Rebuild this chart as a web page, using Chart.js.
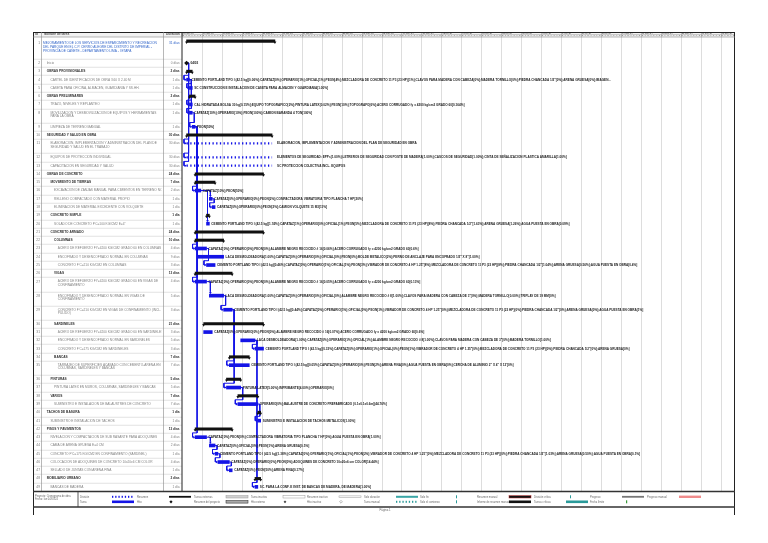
<!DOCTYPE html>
<html>
<head>
<meta charset="utf-8">
<title>Cronograma de obra</title>
<script src="https://cdn.jsdelivr.net/npm/chart.js@4.4.1/dist/chart.umd.min.js"></script>
<style>
  html, body { margin: 0; padding: 0; background: #fff; }
  #wrap { width: 768px; height: 543px; position: relative; }
</style>
</head>
<body>
<div id="wrap"><canvas id="gantt"></canvas></div>
<script>
// ---- datos del cronograma (dias contados desde dom 03/03/24) ----
const taskNames = [
  'MEJORAMIENTO DE LOS SERVICIOS DE ESPARCIMIENTO Y RECREACION\nDEL PARQUE EN EL C.P. CERRO ALEGRE DEL DISTRITO DE IMPERIAL -\nPROVINCIA DE CAÑETE - DEPARTAMENTO LIMA - I ETAPA',
  'Inicio',
  'OBRAS PROVISIONALES',
  'CARTEL DE IDENTIFICACION DE OBRA 3.60 X 2.40 M',
  'CASETA PARA OFICINA, ALMACEN, GUARDIANIA Y SS.HH.',
  'OBRAS PRELIMINARES',
  'TRAZO, NIVELES Y REPLANTEO',
  'MOVILIZACION Y DESMOVILIZACION DE EQUIPOS Y HERRAMIENTAS\nPARA LA OBRA',
  'LIMPIEZA DE TERRENO MANUAL',
  'SEGURIDAD Y SALUD EN OBRA',
  'ELABORACION, IMPLEMENTACION Y ADMINISTRACION DEL PLAN DE\nSEGURIDAD Y SALUD EN EL TRABAJO',
  'EQUIPOS DE PROTECCION INDIVIDUAL',
  'CAPACITACION EN SEGURIDAD Y SALUD',
  'OBRAS DE CONCRETO',
  'MOVIMIENTO DE TIERRAS',
  'EXCAVACION DE ZANJAS MANUAL PARA CIMIENTOS EN TERRENO NORMAL',
  'RELLENO COMPACTADO CON MATERIAL PROPIO',
  'ELIMINACION DE MATERIAL EXCEDENTE CON VOLQUETE',
  'CONCRETO SIMPLE',
  'SOLADO DE CONCRETO F\'C=100 KG/CM2 E=4"',
  'CONCRETO ARMADO',
  'COLUMNAS',
  'ACERO DE REFUERZO FY=4200 KG/CM2 GRADO 60 EN COLUMNAS',
  'ENCOFRADO Y DESENCOFRADO NORMAL EN COLUMNAS',
  'CONCRETO F\'C=210 KG/CM2 EN COLUMNAS',
  'VIGAS',
  'ACERO DE REFUERZO FY=4200 KG/CM2 GRADO 60 EN VIGAS DE\nCONFINAMIENTO',
  'ENCOFRADO Y DESENCOFRADO NORMAL EN VIGAS DE\nCONFINAMIENTO',
  'CONCRETO F\'C=210 KG/CM2 EN VIGAS DE CONFINAMIENTO (INCL.\nPULIDO)',
  'SARDINELES',
  'ACERO DE REFUERZO FY=4200 KG/CM2 GRADO 60 EN SARDINELES',
  'ENCOFRADO Y DESENCOFRADO NORMAL EN SARDINELES',
  'CONCRETO F\'C=175 KG/CM2 EN SARDINELES',
  'BANCAS',
  'TARRAJEO DE SUPERFICIES ACABADO CON CEMENTO-ARENA EN\nCOLUMNAS, SARDINELES Y BANCAS',
  'PINTURAS',
  'PINTURA LATEX EN MUROS, COLUMNAS, SARDINELES Y BANCAS',
  'VARIOS',
  'SUMINISTRO E INSTALACION DE BALAUSTRES DE CONCRETO',
  'TACHOS DE BASURA',
  'SUMINISTRO E INSTALACION DE TACHOS',
  'PISOS Y PAVIMENTOS',
  'NIVELACION Y COMPACTACION DE SUB RASANTE PARA ADOQUINES',
  'CAMA DE ARENA GRUESA E=4 CM',
  'CONCRETO F\'C=175 KG/CM2 EN CONFINAMIENTO (SARDINEL)',
  'COLOCACION DE ADOQUINES DE CONCRETO 10x20x6 CM COLOR',
  'SELLADO DE JUNTAS CON ARENA FINA',
  'MOBILIARIO URBANO',
  'BANCAS DE MADERA'
];
const taskLevels = [0,1,1,2,2,1,2,2,2,1,2,2,2,1,2,3,3,3,2,3,2,3,4,4,4,3,4,4,4,3,4,4,4,3,4,2,3,2,3,1,2,1,2,2,2,2,2,1,2];
// p = resumen del proyecto, s = resumen, t = tarea, d = tarea dividida, m = hito
const taskKinds = ['p','m','s','t','t','s','t','t','t','s','d','d','d','s','s','t','t','t','s','t','s','s','t','t','t','s','t','t','t','s','t','t','t','s','t','s','t','s','t','s','t','s','t','t','t','t','t','s','t'];
const taskStarts = [1.6,1.6,1.6,1.6,2.6,2.6,2.6,2.6,3.6,1.6,1.6,1.6,1.6,4.6,4.6,4.6,9.6,10.6,8.6,8.6,4.6,4.6,4.6,5.6,8.6,4.6,4.6,9.6,14.6,7.6,7.6,20.6,25.6,16.6,16.6,15.6,15.6,19.6,19.6,26.6,26.6,4.6,4.6,9.6,11.6,12.6,16.6,25.6,25.6];
const taskDurations = [31,0,2,1,1,2,1,1,1,30,30,30,30,24,7,2,1,1,1,1,24,10,4,9,3,13,4,5,3,21,3,5,3,7,7,5,5,7,7,1,1,13,4,2,1,4,1,2,1];
const taskPreds = [0,0,0,2,4,0,4,4,8,0,2,2,2,0,0,9,16,17,0,16,0,0,9,0,23,0,9,27,28,0,0,0,32,0,29,0,29,0,37,0,39,0,9,43,44,45,46,0,32];
const barLabels = [
  '', '04/03', '',
  'CEMENTO PORTLAND TIPO I (42.5 kg)[0.06%];CAPATAZ[0%];OPERARIO[1%];OFICIAL[1%];PEON[4%];MEZCLADORA DE CONCRETO 11 P3 (23 HP)[1%];CLAVOS PARA MADERA CON CABEZA[0%];MADERA TORNILLO[0%];PIEDRA CHANCADA 1/2"[0%];ARENA GRUESA[0%];IMAGEN...',
  'SC CONSTRUCCION E INSTALACION DE CASETA PARA ALMACEN Y GUARDIANIA[1.00%]',
  '',
  'CAL HIDRATADA BOLSA 30 kg[0.15%];EQUIPO TOPOGRAFICO[2%];PINTURA LATEX[0.02%];PEON[10%];TOPOGRAFO[6%];ACERO CORRUGADO fy = 4200 kg/cm2 GRADO 60[0.164%]',
  'CAPATAZ[10%];OPERARIO[10%];PEON[100%];CAMION BARANDA 4 TON[100%]',
  'PEON[50%]',
  '',
  'ELABORACION, IMPLEMENTACION Y ADMINISTRACION DEL PLAN DE SEGURIDAD EN OBRA',
  'ELEMENTOS DE SEGURIDAD: EPPs[1.00%];LETREROS DE SEGURIDAD CON POSTE DE MADERA[1.00%];CASCOS DE SEGURIDAD[1.00%];CINTA DE SEÑALIZACION PLASTICA AMARILLA[1.00%]',
  'SC PROTECCION COLECTIVA INCL. EQUIPOS',
  '', '',
  'CAPATAZ[10%];PEON[50%]',
  'CAPATAZ[0%];OPERARIO[0%];PEON[2%];COMPACTADORA VIBRATORIA TIPO PLANCHA 7 HP[20%]',
  'CAPATAZ[0%];OPERARIO[0%];PEON[2%];CAMION VOLQUETE 15 M3[11%]',
  '',
  'CEMENTO PORTLAND TIPO I (42.5 kg)[1.74%];CAPATAZ[1%];OPERARIO[0%];OFICIAL[1%];PEON[5%];MEZCLADORA DE CONCRETO 11 P3 (23 HP)[8%];PIEDRA CHANCADA 1/2"[1.63%];ARENA GRUESA[1.26%];AGUA PUESTA EN OBRA[0.09%]',
  '', '',
  'CAPATAZ[0%];OPERARIO[0%];PEON[0%];ALAMBRE NEGRO RECOCIDO # 16[0.06%];ACERO CORRUGADO fy = 4200 kg/cm2 GRADO 60[0.6%]',
  'LACA DESMOLDEADORA[1.00%];CAPATAZ[0%];OPERARIO[0%];OFICIAL[0%];PEON[0%];MOLDE METALICO[2%];PERNO DE ANCLAJE PARA ENCOFRADO 1/2" X 8"[1.00%]',
  'CEMENTO PORTLAND TIPO I (42.5 kg)[0.46%];CAPATAZ[0%];OPERARIO[1%];OFICIAL[1%];PEON[3%];VIBRADOR DE CONCRETO 4 HP 1.25"[8%];MEZCLADORA DE CONCRETO 11 P3 (23 HP)[8%];PIEDRA CHANCADA 1/2"[1.04%];ARENA GRUESA[0.56%];AGUA PUESTA EN OBRA[0.4%]',
  '',
  'CAPATAZ[0%];OPERARIO[0%];PEON[0%];ALAMBRE NEGRO RECOCIDO # 16[0.05%];ACERO CORRUGADO fy = 4200 kg/cm2 GRADO 60[0.13%]',
  'LACA DESMOLDEADORA[1.00%];CAPATAZ[0%];OPERARIO[0%];OFICIAL[0%];ALAMBRE NEGRO RECOCIDO # 8[1.00%];CLAVOS PARA MADERA CON CABEZA DE 3"[0%];MADERA TORNILLO[0.00%];TRIPLAY DE 19 MM[0%]',
  'CEMENTO PORTLAND TIPO I (42.5 kg)[0.44%];CAPATAZ[0%];OPERARIO[1%];OFICIAL[0%];PEON[1%];VIBRADOR DE CONCRETO 4 HP 1.25"[0%];MEZCLADORA DE CONCRETO 11 P3 (23 HP)[0%];PIEDRA CHANCADA 1/2"[0%];ARENA GRUESA[0%];AGUA PUESTA EN OBRA[1%]',
  '',
  'CAPATAZ[0%];OPERARIO[0%];PEON[0%];ALAMBRE NEGRO RECOCIDO # 16[0.07%];ACERO CORRUGADO fy = 4200 kg/cm2 GRADO 60[0.6%]',
  'LACA DESMOLDEADORA[1.00%];CAPATAZ[0%];OPERARIO[1%];OFICIAL[1%];ALAMBRE NEGRO RECOCIDO # 8[1.00%];CLAVOS PARA MADERA CON CABEZA DE 3"[0%];MADERA TORNILLO[1.00%]',
  'CEMENTO PORTLAND TIPO I (42.5 kg)[0.33%];CAPATAZ[0%];OPERARIO[1%];OFICIAL[0%];PEON[1%];VIBRADOR DE CONCRETO 4 HP 1.25"[0%];MEZCLADORA DE CONCRETO 11 P3 (23 HP)[0%];PIEDRA CHANCADA 1/2"[0%];ARENA GRUESA[0%]',
  '',
  'CEMENTO PORTLAND TIPO I (42.5 kg)[0.05%];CAPATAZ[0%];OPERARIO[0%];PEON[2%];ARENA FINA[0%];AGUA PUESTA EN OBRA[0%];CERCHA DE ALUMINIO 2" X 4" X 12\'[0%]',
  '',
  'PINTURA LATEX[5.00%];IMPRIMANTE[4.00%];OPERARIO[0%]',
  '',
  'OPERARIO[0%];BALAUSTRE DE CONCRETO PREFABRICADO (0.1x0.1x0.6m)[44.76%]',
  '',
  'SUMINISTRO E INSTALACION DE TACHOS METALICOS[1.00%]',
  '',
  'CAPATAZ[0%];PEON[0%];COMPACTADORA VIBRATORIA TIPO PLANCHA 7 HP[0%];AGUA PUESTA EN OBRA[1.00%]',
  'CAPATAZ[0%];OFICIAL[0%];PEON[1%];ARENA GRUESA[0.5%]',
  'CEMENTO PORTLAND TIPO I (42.5 kg)[1.38%];CAPATAZ[0%];OPERARIO[1%];OFICIAL[1%];PEON[2%];VIBRADOR DE CONCRETO 4 HP 1.25"[0%];MEZCLADORA DE CONCRETO 11 P3 (23 HP)[0%];PIEDRA CHANCADA 1/2"[1.03%];ARENA GRUESA[0.50%];AGUA PUESTA EN OBRA[0.1%]',
  'CAPATAZ[0%];OPERARIO[0%];PEON[0%];ADOQUINES DE CONCRETO 10x20x6 cm COLOR[14.44%]',
  'CAPATAZ[0%];PEON[50%];ARENA FINA[0.17%]',
  '',
  'SC. PARA LA CONF. E INST. DE BANCAS DE MADERA, DE MADERA[1.00%]'
];
const weekLabels = ["03 mar '24","10 mar '24","17 mar '24","24 mar '24","31 mar '24","07 abr '24","14 abr '24",
  "21 abr '24","28 abr '24","05 may '24","12 may '24","19 may '24","26 may '24","02 jun '24","09 jun '24",
  "16 jun '24","23 jun '24","30 jun '24","07 jul '24","14 jul '24","21 jul '24","28 jul '24","04 ago '24",
  "11 ago '24","18 ago '24","25 ago '24","01 sep '24","08 sep '24"];
const dayLetters = ['D','L','M','X','J','V','S'];
const legendRowA = ['División','Resumen','Tareas externas','Tarea inactiva','Resumen inactivo','Solo duración','Solo fin','Resumen manual','División crítica','Progreso','Progreso manual'];
const legendRowB = ['Tarea','Hito','Resumen del proyecto','Hito externo','Hito inactivo','Tarea manual','Solo el comienzo','Informe de resumen manual','Tareas críticas','Fecha límite',''];

const BLUE = '#1414e6';
const SPAN_DAYS = 194;

// alto de cada fila segun lineas del nombre (unidades de fila)
const ROW_UNITS = { 1: 1, 2: 1.7, 3: 2.65 };
const lineCounts = taskNames.map(n => n.split('\n').length);
const rowTop = [];
let acc = 0;
lineCounts.forEach(c => { rowTop.push(acc); acc += ROW_UNITS[c]; });
const totalUnits = acc;
const rowY = rowTop.map(t => t + 0.5);
const taskEnd = i => taskStarts[i] + taskDurations[i];

const taskBars = [], summaryBars = [], splitPts = [], capPts = [], milePts = [];
taskKinds.forEach((k, i) => {
  const s = taskStarts[i], e = taskEnd(i), y = rowY[i];
  if (k === 't') taskBars.push({ x: [s, e], y });
  if (k === 's' || k === 'p') {
    summaryBars.push({ x: [s, e], y });
    capPts.push({ x: s, y: y + 0.14 }, { x: e, y: y + 0.14 });
  }
  if (k === 'd') splitPts.push({ x: s, y }, { x: e, y }, { x: null, y: null });
  if (k === 'm') milePts.push({ x: s, y });
});

// vinculos fin-comienzo al estilo de Project
const linkPts = [], arrowPts = [], arrowRot = [];
taskPreds.forEach((p, i) => {
  if (!p) return;
  const a = p - 1;
  const xe = taskEnd(a), yp = rowY[a];
  const xs = taskStarts[i], ys = rowY[i];
  if (xs >= xe + 0.3) {
    const xd = xs + 0.35;
    linkPts.push({ x: xe, y: yp }, { x: xd, y: yp }, { x: xd, y: ys - 0.48 }, { x: null, y: null });
    arrowPts.push({ x: xd, y: ys - 0.36 });
    arrowRot.push(180);
  } else {
    const xr = xe + 0.7, xl = xs - 0.9, ym = rowTop[i] - 0.02;
    linkPts.push({ x: xe, y: yp }, { x: xr, y: yp }, { x: xr, y: ym }, { x: xl, y: ym },
      { x: xl, y: ys }, { x: xs - 0.5, y: ys }, { x: null, y: null });
    arrowPts.push({ x: xs - 0.42, y: ys });
    arrowRot.push(90);
  }
});

const durText = d => (d === 1 ? '1 día' : d + ' días');

const ganttPaper = {
  id: 'ganttPaper',
  beforeDraw(chart) {
    const c = chart.ctx;
    c.save();
    c.fillStyle = '#fff';
    c.fillRect(0, 0, chart.width, chart.height);
    c.restore();
  },
  beforeDatasetsDraw(chart) {
    const c = chart.ctx, xs = chart.scales.x, a = chart.chartArea;
    c.save();
    c.strokeStyle = '#d4d4d4';
    c.lineWidth = 0.8;
    for (let d = 7; d < SPAN_DAYS; d += 7) {
      const px = Math.round(xs.getPixelForValue(d)) + 0.5;
      c.beginPath(); c.moveTo(px, a.top); c.lineTo(px, a.bottom); c.stroke();
    }
    c.restore();
  },
  afterDatasetsDraw(chart) {
    const c = chart.ctx, xs = chart.scales.x, ys = chart.scales.y, a = chart.chartArea;
    const L = 33, R = 735, TOP = 32, HB = 37, BOT = a.bottom;
    const cId = 41.5, cName = 163.5, cDur = 182;

    // textos junto a las barras
    c.save();
    c.beginPath(); c.rect(a.left, a.top, a.right - a.left, a.bottom - a.top); c.clip();
    c.font = 'bold 3.1px Arial';
    c.fillStyle = '#1a1a1a';
    c.textBaseline = 'middle';
    barLabels.forEach((t, i) => {
      if (!t) return;
      const k = taskKinds[i];
      const gap = k === 'm' ? 4 : (k === 'd' ? 5 : 2);
      c.fillText(t, xs.getPixelForValue(taskEnd(i)) + gap, ys.getPixelForValue(rowY[i]) + 0.2);
    });
    c.restore();

    // tabla de tareas
    c.save();
    c.strokeStyle = '#c4c4c4';
    c.lineWidth = 0.5;
    rowTop.forEach((t, i) => {
      if (i === 0) return;
      const py = Math.round(ys.getPixelForValue(t)) + 0.25;
      c.beginPath(); c.moveTo(L, py); c.lineTo(cDur, py); c.stroke();
    });
    c.textBaseline = 'middle';
    taskNames.forEach((n, i) => {
      const k = taskKinds[i];
      const y0 = rowY[i] + (k === 'p' ? 0.27 : 0);
      const step = k === 'p' ? 0.45 : 0.41;
      const yPx = ys.getPixelForValue(y0);
      c.font = '3.3px Arial';
      c.fillStyle = '#777';
      c.textAlign = 'right';
      c.fillText(String(i + 1), 40, yPx);
      const bold = k === 's';
      c.font = (bold ? 'bold ' : '') + '3.2px Arial';
      c.fillStyle = k === 'p' ? '#2f63c8' : (bold ? '#303030' : '#808080');
      c.fillText(durText(taskDurations[i]), 179.5, yPx);
      c.textAlign = 'left';
      c.save();
      c.beginPath(); c.rect(cId, yPx - 5, cName - cId - 2, 20); c.clip();
      n.split('\n').forEach((ln, j) => {
        c.fillText(ln, 43 + taskLevels[i] * 3.7, ys.getPixelForValue(y0 + j * step));
      });
      c.restore();
    });
    c.restore();

    // encabezado de la escala de tiempo
    c.save();
    c.fillStyle = '#f2f2f2';
    c.fillRect(L, TOP, R - L, HB - TOP);
    c.strokeStyle = '#9a9a9a';
    c.lineWidth = 0.5;
    c.beginPath(); c.moveTo(cDur, 34.6); c.lineTo(R, 34.6); c.stroke();
    c.fillStyle = '#555';
    c.textBaseline = 'middle';
    c.textAlign = 'left';
    c.font = 'bold 3.2px Arial';
    c.fillText('Id', 35, 34.6);
    c.fillText('Nombre de tarea', 44, 34.6);
    c.fillText('Duración', 166, 34.6);
    c.font = '2.3px Arial';
    weekLabels.forEach((w, k) => {
      const px = xs.getPixelForValue(k * 7);
      if (px > R - 8) return;
      c.fillText(w, px + 1, 33.4);
      c.beginPath(); c.moveTo(Math.round(px) + 0.5, TOP); c.lineTo(Math.round(px) + 0.5, HB); c.stroke();
    });
    c.textAlign = 'center';
    c.font = '2px Arial';
    for (let d = 0; d < SPAN_DAYS; d++) {
      const px = xs.getPixelForValue(d + 0.5);
      c.fillText(dayLetters[d % 7], px, 35.9);
    }
    c.restore();

    // marcos y columnas
    c.save();
    c.strokeStyle = '#222';
    c.lineWidth = 1;
    c.beginPath();
    c.moveTo(L, TOP + 0.5); c.lineTo(R, TOP + 0.5);
    c.moveTo(L + 0.5, TOP); c.lineTo(L + 0.5, 515);
    c.moveTo(R - 0.5, TOP); c.lineTo(R - 0.5, 515);
    c.moveTo(cDur, TOP); c.lineTo(cDur, BOT);
    c.stroke();
    c.strokeStyle = '#888';
    c.lineWidth = 0.6;
    c.beginPath();
    c.moveTo(L, HB); c.lineTo(R, HB);
    c.moveTo(cId, TOP); c.lineTo(cId, BOT);
    c.moveTo(cName, TOP); c.lineTo(cName, BOT);
    c.stroke();

    // leyenda
    const LT = BOT, LB = 507;
    c.strokeStyle = '#333';
    c.lineWidth = 1.3;
    c.beginPath(); c.moveTo(L, LT + 0.5); c.lineTo(R, LT + 0.5); c.stroke();
    c.beginPath(); c.moveTo(L, LB); c.lineTo(R, LB); c.stroke();
    c.lineWidth = 0.8;
    c.beginPath(); c.moveTo(78, LT); c.lineTo(78, LB); c.stroke();
    c.fillStyle = '#666';
    c.font = '2.6px Arial';
    c.textBaseline = 'middle';
    c.textAlign = 'left';
    c.fillText('Proyecto: Cronograma de obra', 35, 496.5);
    c.fillText('Fecha: lun 04/03/24', 35, 499.5);
    const colX = [80, 137, 194, 251, 307, 364, 420, 477, 534, 590, 647];
    const yA = 496.8, yB = 501.8;
    colX.forEach((x, i) => {
      c.fillStyle = '#666';
      if (legendRowA[i]) c.fillText(legendRowA[i], x, yA);
      if (legendRowB[i]) c.fillText(legendRowB[i], x, yB);
    });
    const sx = i => colX[i] + 32;
    const bar = (x, y, w, h, fill, stroke) => {
      if (fill) { c.fillStyle = fill; c.fillRect(x, y - h / 2, w, h); }
      if (stroke) { c.strokeStyle = stroke; c.lineWidth = 0.5; c.strokeRect(x, y - h / 2, w, h); }
    };
    const dots = (x, y, w, col) => {
      c.fillStyle = col;
      for (let p = x; p < x + w; p += 3.2) c.fillRect(p, y - 1, 1.3, 2);
    };
    const diamond = (x, y, r, fill, stroke) => {
      c.beginPath(); c.moveTo(x, y - r); c.lineTo(x + r, y); c.lineTo(x, y + r); c.lineTo(x - r, y); c.closePath();
      if (fill) { c.fillStyle = fill; c.fill(); }
      if (stroke) { c.strokeStyle = stroke; c.lineWidth = 0.5; c.stroke(); }
    };
    // fila A
    dots(sx(0), yA, 22, BLUE);
    bar(sx(1), yA, 22, 1.8, '#111');
    bar(sx(2), yA, 22, 2.4, '#d0d0d0', '#999');
    bar(sx(3), yA, 22, 2.4, null, '#999');
    bar(sx(4), yA, 22, 1.8, null, '#999');
    bar(sx(5), yA, 22, 2, '#3aa6a6');
    bar(sx(6) + 4, yA, 1, 3, '#2a9a9a');
    bar(sx(7), yA, 22, 2.4, '#111', '#c03030');
    bar(sx(8) + 4, yA, 1, 3, '#2a9a9a');
    bar(sx(9), yA, 22, 1.8, '#777');
    bar(sx(10), yA, 22, 2.4, '#f08c8c');
    // fila B
    bar(sx(0), yB, 22, 2.6, BLUE);
    diamond(sx(1) + 2, yB, 1.6, '#111');
    bar(sx(2), yB, 22, 2.6, '#a8a8a8', '#222');
    diamond(sx(3) + 2, yB, 1.4, '#444');
    diamond(sx(4) + 2, yB, 1.4, null, '#777');
    dots(sx(5), yB, 22, '#2a9a9a');
    bar(sx(6) + 4, yB, 1, 3, '#2a9a9a');
    bar(sx(7), yB, 22, 2.6, '#111');
    bar(sx(8), yB, 22, 2.6, '#2a9a9a');
    bar(sx(9) + 4, yB, 1.2, 3, '#3a9a3a');

    // pie de pagina
    c.fillStyle = '#666';
    c.font = '2.8px Arial';
    c.textAlign = 'center';
    c.fillText('Página 1', 385, 510.5);
    c.restore();
  }
};

new Chart(document.getElementById('gantt'), {
  type: 'bar',
  data: {
    datasets: [
      {
        type: 'line', data: linkPts, borderColor: BLUE, borderWidth: 1,
        pointRadius: 0, spanGaps: false, order: 5
      },
      {
        type: 'scatter', data: arrowPts, pointStyle: 'triangle', pointRadius: 1.5,
        pointRotation: ctx => arrowRot[ctx.dataIndex] || 0,
        pointBackgroundColor: BLUE, pointBorderWidth: 0, order: 4
      },
      {
        data: taskBars, backgroundColor: BLUE, barThickness: 3, grouped: false, order: 3
      },
      {
        data: summaryBars, backgroundColor: '#111', barThickness: 2.4, grouped: false, order: 2
      },
      {
        type: 'line', data: splitPts, borderColor: BLUE, borderWidth: 2.2,
        borderDash: [1.3, 2.4], pointRadius: 0, spanGaps: false, order: 3
      },
      {
        type: 'scatter', data: capPts, pointStyle: 'triangle', pointRadius: 1.7, pointRotation: 180,
        pointBackgroundColor: '#111', pointBorderWidth: 0, order: 1
      },
      {
        type: 'scatter', data: milePts, pointStyle: 'rectRot', pointRadius: 2.4,
        pointBackgroundColor: '#111', pointBorderWidth: 0, order: 1
      }
    ]
  },
  options: {
    indexAxis: 'y',
    responsive: true,
    maintainAspectRatio: false,
    animation: false,
    events: [],
    layout: { padding: { left: 182, right: 33, top: 37, bottom: 52 } },
    scales: {
      x: { type: 'linear', min: 0, max: SPAN_DAYS, display: false, offset: false },
      y: { type: 'linear', min: 0, max: totalUnits, reverse: true, display: false, offset: false }
    },
    plugins: {
      legend: { display: false },
      tooltip: { enabled: false }
    }
  },
  plugins: [ganttPaper]
});
</script>
</body>
</html>
